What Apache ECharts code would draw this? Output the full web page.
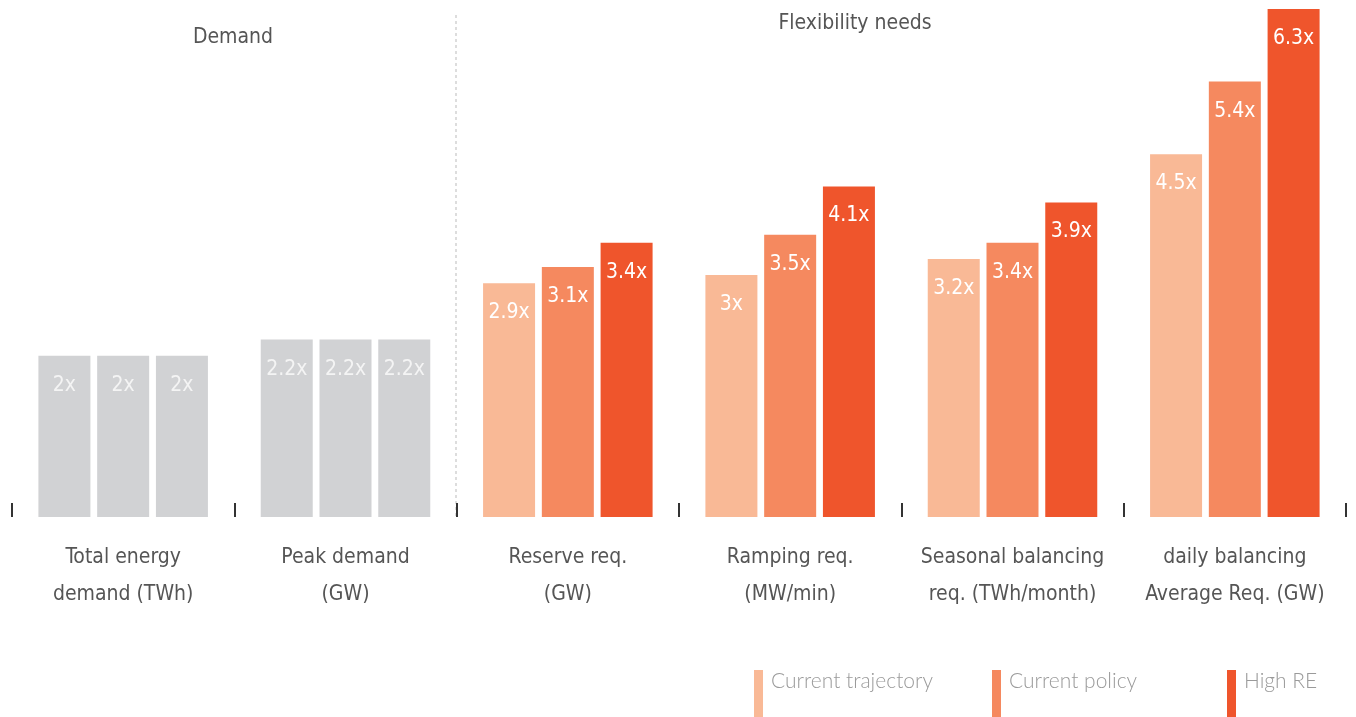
<!DOCTYPE html>
<html>
<head>
<meta charset="utf-8">
<title>Demand and flexibility needs</title>
<script src="https://cdn.jsdelivr.net/npm/echarts@6/dist/echarts.min.js"></script>
<style>
  html, body { margin: 0; padding: 0; background: #fff; }
  #chart { width: 1356px; height: 717px; }
</style>
</head>
<body>
<div id="chart"></div>
<script>
// categories (two-line labels)
const categories = [
  'Total energy\ndemand (TWh)',
  'Peak demand\n(GW)',
  'Reserve req.\n(GW)',
  'Ramping req.\n(MW/min)',
  'Seasonal balancing\nreq. (TWh/month)',
  'daily balancing\nAverage Req. (GW)'
]
const seriesNames = ['Current trajectory', 'Current policy', 'High RE']
const currentTrajectory = [2, 2.2, 2.9, 3, 3.2, 4.5]
const currentPolicy = [2, 2.2, 3.1, 3.5, 3.4, 5.4]
const highRE = [2, 2.2, 3.4, 4.1, 3.9, 6.3]
// the first two categories are "Demand" and drawn grey
const demandCount = 2

const colors = ['#f9b996', '#f5895f', '#ef552c']
const grey = '#d1d2d4'
const narrow = "'Liberation Sans Narrow', 'DejaVu Sans Condensed', sans-serif"
const legendLefts = [754, 992, 1227]

function makeSeries(name, values, color) {
  return {
    name: name,
    type: 'bar',
    barWidth: 52,
    barGap: '13%',
    itemStyle: { color: color },
    label: {
      show: true,
      position: 'insideTop',
      distance: 19,
      color: '#fff',
      fontFamily: narrow,
      fontSize: 21,
      formatter(p) {
        return p.value + 'x'
      }
    },
    data: values.map((v, i) => {
      if (i < demandCount) {
        return { value: v, itemStyle: { color: grey }, label: { color: '#f4f4f4' } }
      }
      return v
    })
  }
}

// legend keeps the tall colour swatch; its text sits near the top of the swatch
function makeLegend(name, left) {
  return {
    data: [name],
    left: left,
    top: 670,
    padding: 0,
    itemWidth: 9,
    itemHeight: 48,
    icon: 'rect',
    formatter() {
      return ''
    }
  }
}

function legendText(name, left) {
  return {
    type: 'text',
    left: left + 17,
    top: 671,
    style: {
      text: name,
      fill: '#9a9a9a',
      font: '300 21px Lato'
    }
  }
}

const chart = echarts.init(document.getElementById('chart'))
const option = {
  backgroundColor: '#fff',
  animation: false,
  color: colors,
  title: [
    {
      text: 'Demand',
      left: 233,
      top: 27,
      padding: 0,
      textAlign: 'center',
      textStyle: { color: '#555', fontFamily: narrow, fontSize: 21, fontWeight: 'normal' }
    },
    {
      text: 'Flexibility needs',
      left: 855,
      top: 13,
      padding: 0,
      textAlign: 'center',
      textStyle: { color: '#555', fontFamily: narrow, fontSize: 21, fontWeight: 'normal' }
    }
  ],
  legend: seriesNames.map((n, i) => makeLegend(n, legendLefts[i])),
  grid: {
    left: 12,
    right: 10,
    top: 9,
    bottom: 200
  },
  xAxis: {
    type: 'category',
    data: categories,
    axisLine: { show: false },
    axisTick: {
      show: true,
      inside: true,
      length: 14,
      lineStyle: { color: '#333', width: 2 }
    },
    axisLabel: {
      interval: 0,
      margin: 22,
      color: '#555',
      fontFamily: narrow,
      fontSize: 21,
      lineHeight: 37
    }
  },
  yAxis: {
    type: 'value',
    min: 0,
    max: 6.3,
    show: false
  },
  graphic: [
    {
      type: 'line',
      shape: { x1: 456, y1: 15, x2: 456, y2: 517 },
      style: { stroke: '#bbb', lineWidth: 1, lineDash: [3, 3] }
    }
  ].concat(seriesNames.map((n, i) => legendText(n, legendLefts[i]))),
  series: [
    makeSeries(seriesNames[0], currentTrajectory, colors[0]),
    makeSeries(seriesNames[1], currentPolicy, colors[1]),
    makeSeries(seriesNames[2], highRE, colors[2])
  ]
}
chart.setOption(option)
</script>
</body>
</html>
